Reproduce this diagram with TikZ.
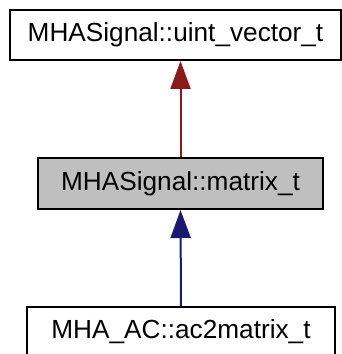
\documentclass[tikz,border=0pt]{standalone}
\usepackage{fontspec}
\setmainfont{Liberation Sans}
\usetikzlibrary{arrows.meta}
\definecolor{edgered}{HTML}{8B1A1A}
\definecolor{edgeblue}{HTML}{191970}
\definecolor{boxgray}{HTML}{BFBFBF}
\begin{document}
\begin{tikzpicture}[x=1pt,y=1pt,
  cls/.style={draw=black, line width=2pt, fill=white, inner sep=0pt, font=\fontsize{26.2}{29}\selectfont},
  inh/.style={line width=2pt, -{Triangle[length=28pt,width=20pt]}}]
\useasboundingbox (0,0) rectangle (342,354);
\node[cls, minimum width=331pt, minimum height=50pt] (top) at (175.5,319) {MHASignal::uint\_vector\_t};
\node[cls, fill=boxgray, minimum width=285pt, minimum height=51pt] (mid) at (180.5,170.5) {MHASignal::matrix\_t};
\node[cls, minimum width=308pt, minimum height=49pt] (bot) at (181,22.5) {MHA\_AC::ac2matrix\_t};
\draw[inh, edgered] (mid.north) -- (mid.north |- top.south);
\draw[inh, edgeblue] (bot.north) -- (mid.south);
\end{tikzpicture}
\end{document}
